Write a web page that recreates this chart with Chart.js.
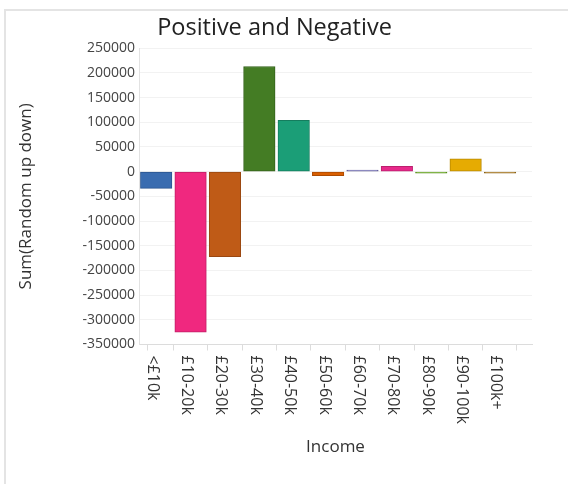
<!DOCTYPE html>
<html>
<head>
<meta charset="utf-8">
<script src="https://cdn.jsdelivr.net/npm/chart.js@4.4.1/dist/chart.umd.min.js"></script>
<style>
    body { margin: 0; background: #fff; overflow: hidden; }
    .frame {
        position: absolute; left: 4px; top: 9px; width: 700px; height: 600px;
        border-top: 2px solid #e4e4e4; border-left: 2px solid #e4e4e4;
    }
    .chart-box { position: absolute; left: 6px; top: 11px; width: 537px; height: 473px; }
</style>
</head>
<body>
<div class="frame"></div>
<div class="chart-box"><canvas id="income-chart"></canvas></div>
<script>
const incomeBands = ['<£10k', '£10-20k', '£20-30k', '£30-40k', '£40-50k', '£50-60k',
    '£60-70k', '£70-80k', '£80-90k', '£90-100k', '£100k+'];
const randomUpDown = [-34000, -325000, -172000, 213000, 104000, -8000,
    3000, 11000, -3000, 26000, -3000];
const yTicks = [250000, 200000, 150000, 100000, 50000, 0, -50000, -100000,
    -150000, -200000, -250000, -300000, -350000];

const fillColours = ['#3a6cb0', '#f0287f', '#bf5b17', '#447c24', '#1b9e77', '#d95f02',
    '#7570b3', '#e7298a', '#66a61e', '#e6ab02', '#a6761d'];
const edgeColours = ['#2d5690', '#c01f66', '#9a4812', '#34621b', '#157d5e', '#ad4b02',
    '#5b5790', '#bb1f6e', '#4f8216', '#b88800', '#845d16'];

document.addEventListener('DOMContentLoaded', function() {
    const ctx = document.getElementById('income-chart').getContext('2d');
    Chart.defaults.font.family = '"Open Sans", sans-serif';

    // x labels read top to bottom, so draw them ourselves
    const downLabels = {
        id: 'downLabels',
        afterDraw(chart) {
            const c = chart.ctx;
            const xs = chart.scales.x;
            c.save();
            c.font = '16px "Open Sans"';
            c.fillStyle = '#333';
            c.textAlign = 'left';
            c.textBaseline = 'middle';
            incomeBands.forEach((label, i) => {
                c.save();
                c.translate(xs.getPixelForValue(i) - 4, xs.top + 11);
                c.rotate(Math.PI / 2);
                c.fillText(label, 0, 0);
                c.restore();
            });
            c.restore();
        }
    };

    new Chart(ctx, {
        type: 'bar',
        data: {
            datasets: [{
                label: 'Sum(Random up down)',
                data: randomUpDown.map((v, i) => ({ x: i, y: v })),
                backgroundColor: fillColours,
                borderColor: edgeColours,
                borderWidth: 1,
                borderSkipped: false,
                barThickness: 31.5
            }]
        },
        plugins: [downLabels],
        options: {
            responsive: true,
            maintainAspectRatio: false,
            animation: false,
            layout: { padding: { left: 11, right: 11, top: 0, bottom: 0 } },
            plugins: {
                legend: { display: false },
                tooltip: { enabled: false },
                title: {
                    display: true,
                    text: 'Positive and Negative',
                    color: '#222',
                    font: { size: 23.5, weight: 'normal' },
                    padding: { top: 3, bottom: 6 }
                }
            },
            scales: {
                x: {
                    type: 'linear',
                    offset: false,
                    min: -0.5,
                    max: 10.93,
                    afterBuildTicks: (s) => {
                        s.ticks = [-0.5].concat(incomeBands.map((b, i) => i), [10.93])
                            .map(v => ({ value: v }));
                    },
                    afterFit: (s) => { s.height = 139.5; },
                    ticks: { display: false },
                    grid: { drawOnChartArea: false, drawTicks: true, tickLength: 6, color: '#dcdcdc' },
                    border: { color: '#dcdcdc' },
                    title: {
                        display: true,
                        text: 'Income',
                        color: '#333',
                        font: { size: 17 },
                        padding: { top: 0, bottom: 27 }
                    }
                },
                y: {
                    min: -350000,
                    max: 250000,
                    afterBuildTicks: (s) => {
                        s.ticks = yTicks.slice().reverse().map(v => ({ value: v }));
                    },
                    afterFit: (s) => { s.width = 122; },
                    ticks: {
                        color: '#444',
                        font: { size: 14 },
                        padding: 4,
                        callback: (v) => String(v)
                    },
                    grid: { color: '#f2f2f2', drawTicks: false },
                    border: { color: '#e2e2e2' },
                    title: {
                        display: true,
                        text: 'Sum(Random up down)',
                        color: '#333',
                        font: { size: 17 },
                        padding: { top: -1, bottom: 0 }
                    }
                }
            }
        }
    });
});
</script>
</body>
</html>
